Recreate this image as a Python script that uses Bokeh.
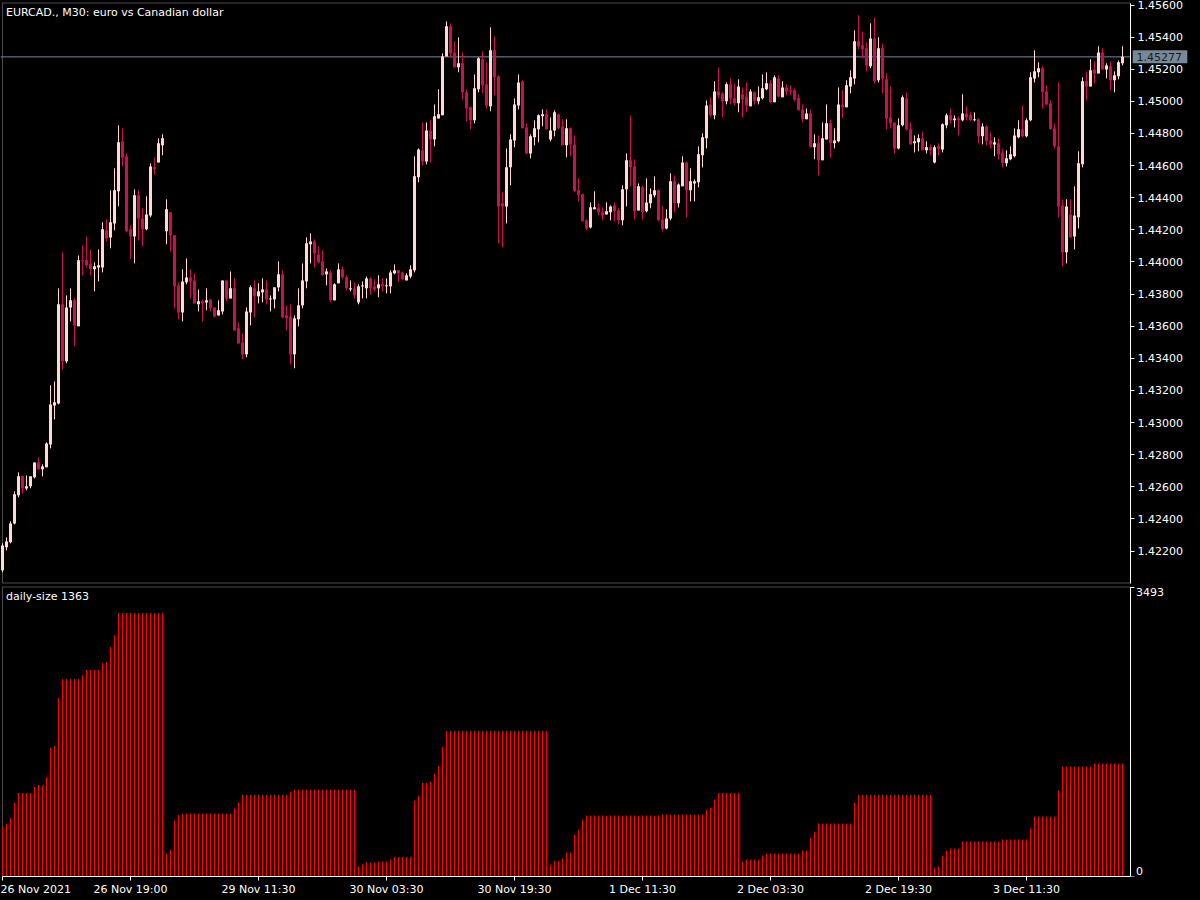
from bokeh.plotting import figure
from bokeh.models import (Range1d, FixedTicker, Label, NumeralTickFormatter,
                          ColumnDataSource, BoxAnnotation)
from bokeh.layouts import column
from bokeh.embed import file_html
from bokeh.resources import INLINE

# ---------------- data (EURCAD M30, 26 Nov 03:00 .. 3 Dec 23:30) ----------------
opens = [
1.42080,1.42223,1.42254,1.42372,1.42547,1.42665,1.42590,1.42603,1.42659,1.42752,
1.42709,1.42721,1.42864,1.43107,1.43119,1.43736,1.43381,1.43717,1.43761,1.43599,
1.44010,1.44010,1.43991,1.43954,1.43966,1.43966,1.44197,1.44153,1.44240,1.44440,
1.44751,1.44658,1.44203,1.44159,1.44415,1.44271,1.44203,1.44290,1.44589,1.44620,
1.44726,1.44191,1.44309,1.44166,1.43854,1.43686,1.43873,1.43904,1.43885,1.43736,
1.43755,1.43748,1.43767,1.43717,1.43667,1.43692,1.43885,1.43773,1.43836,1.43587,
1.43499,1.43425,1.43686,1.43836,1.43786,1.43811,1.43829,1.43767,1.43767,1.43842,
1.43923,1.43667,1.43661,1.43425,1.43643,1.43730,1.43879,1.44110,1.44128,1.44047,
1.44004,1.43923,1.43935,1.43761,1.43867,1.43954,1.43904,1.43829,1.43836,1.43748,
1.43848,1.43836,1.43898,1.43848,1.43836,1.43861,1.43848,1.43848,1.43929,1.43948,
1.43935,1.43885,1.43910,1.43948,1.44527,1.44695,1.44626,1.44819,1.44763,1.44894,
1.44913,1.45280,1.45467,1.45305,1.45212,1.45237,1.45056,1.44963,1.44882,1.45075,
1.45262,1.45106,1.44969,1.45318,1.45156,1.44365,1.44346,1.44589,1.44757,1.44975,
1.45125,1.44838,1.44676,1.44776,1.44826,1.44907,1.44919,1.44763,1.44819,1.44919,
1.44844,1.44726,1.44832,1.44732,1.44446,1.44421,1.44259,1.44215,1.44328,1.44334,
1.44309,1.44296,1.44309,1.44352,1.44321,1.44259,1.44452,1.44633,1.44595,1.44321,
1.44465,1.44315,1.44365,1.44415,1.44446,1.44265,1.44209,1.44271,1.44502,1.44365,
1.44471,1.44620,1.44446,1.44489,1.44496,1.44664,1.44770,1.44981,1.44913,1.45062,
1.45050,1.45000,1.45106,1.45019,1.44988,1.45044,1.45031,1.44969,1.45056,1.45000,
1.45019,1.45075,1.45112,1.44994,1.45143,1.45025,1.45087,1.45069,1.45069,1.45019,
1.44950,1.44888,1.44925,1.44714,1.44739,1.44633,1.44763,1.44863,1.44739,1.44751,
1.44981,1.44963,1.45093,1.45143,1.45374,1.45349,1.45330,1.45218,1.45392,1.45131,
1.45330,1.45137,1.44900,1.44869,1.44707,1.44851,1.45019,1.44826,1.44739,1.44745,
1.44770,1.44695,1.44714,1.44620,1.44720,1.44701,1.44851,1.44913,1.44882,1.44894,
1.44882,1.44925,1.44913,1.44882,1.44888,1.44782,1.44844,1.44757,1.44732,1.44739,
1.44682,1.44614,1.44639,1.44658,1.44776,1.44826,1.44782,1.44882,1.45143,1.45181,
1.45206,1.45062,1.44988,1.44832,1.44720,1.44352,1.44060,1.44296,1.44159,1.44278,
1.44608,1.45125,1.45093,1.45199,1.45174,1.45305,1.45199,1.45218,1.45131,1.45156,
1.45237]
highs = [
1.42248,1.42285,1.42385,1.42572,1.42690,1.42671,1.42671,1.42665,1.42752,1.42783,
1.42740,1.42877,1.43232,1.43256,1.43836,1.44060,1.43792,1.43836,1.43773,1.44041,
1.44103,1.44159,1.44078,1.43998,1.44078,1.44247,1.44265,1.44446,1.44583,1.44851,
1.44832,1.44676,1.44228,1.44452,1.44446,1.44334,1.44409,1.44614,1.44651,1.44770,
1.44795,1.44390,1.44309,1.44166,1.43873,1.43954,1.44022,1.43954,1.43929,1.43829,
1.43767,1.43836,1.43767,1.43717,1.43761,1.43885,1.43885,1.43941,1.43898,1.43624,
1.43555,1.43717,1.43854,1.43885,1.43867,1.43898,1.43885,1.43792,1.43842,1.44004,
1.43948,1.43730,1.43736,1.43667,1.43836,1.43991,1.44153,1.44178,1.44141,1.44097,
1.44072,1.43960,1.43948,1.43867,1.43991,1.43973,1.43917,1.43885,1.43873,1.43861,
1.43879,1.43910,1.43904,1.43892,1.43917,1.43898,1.43898,1.43948,1.43985,1.43948,
1.43941,1.43929,1.43979,1.44658,1.44707,1.44869,1.44869,1.44882,1.44981,1.45075,
1.45299,1.45498,1.45486,1.45374,1.45399,1.45305,1.45075,1.44969,1.45168,1.45274,
1.45311,1.45243,1.45461,1.45405,1.45162,1.44433,1.44707,1.44795,1.45019,1.45168,
1.45131,1.44863,1.44795,1.44882,1.44919,1.44950,1.44950,1.44900,1.44944,1.44925,
1.44888,1.44888,1.44838,1.44788,1.44521,1.44427,1.44265,1.44371,1.44440,1.44365,
1.44340,1.44371,1.44352,1.44371,1.44334,1.44477,1.44676,1.44913,1.44639,1.44489,
1.44477,1.44521,1.44458,1.44533,1.44452,1.44346,1.44328,1.44552,1.44539,1.44489,
1.44658,1.44626,1.44583,1.44514,1.44720,1.44801,1.45006,1.45025,1.45125,1.45212,
1.45056,1.45118,1.45143,1.45112,1.45137,1.45087,1.45118,1.45075,1.45062,1.45093,
1.45168,1.45181,1.45131,1.45162,1.45162,1.45125,1.45106,1.45100,1.45081,1.45044,
1.44981,1.44956,1.44950,1.44795,1.44788,1.44869,1.44981,1.44888,1.44832,1.45087,
1.45069,1.45131,1.45193,1.45442,1.45536,1.45436,1.45367,1.45486,1.45523,1.45399,
1.45361,1.45174,1.45093,1.44869,1.44894,1.45037,1.45056,1.44869,1.44788,1.44795,
1.44813,1.44751,1.44732,1.44726,1.44739,1.44863,1.44925,1.44956,1.44913,1.44907,
1.45044,1.44969,1.44932,1.44932,1.44894,1.44863,1.44851,1.44807,1.44776,1.44770,
1.44707,1.44695,1.44720,1.44832,1.44882,1.44975,1.44894,1.45181,1.45318,1.45243,
1.45218,1.45100,1.45006,1.44863,1.45118,1.44390,1.44390,1.44390,1.44471,1.44689,
1.45150,1.45187,1.45262,1.45249,1.45343,1.45330,1.45237,1.45249,1.45187,1.45255,
1.45343]
lows = [
1.42067,1.42204,1.42248,1.42366,1.42534,1.42559,1.42578,1.42590,1.42652,1.42702,
1.42665,1.42721,1.42839,1.43020,1.43113,1.43331,1.43369,1.43630,1.43474,1.43599,
1.43917,1.43966,1.43917,1.43817,1.43879,1.43935,1.44128,1.44085,1.44197,1.44346,
1.44595,1.44184,1.44016,1.43991,1.44135,1.44097,1.44197,1.44278,1.44545,1.44620,
1.44664,1.44110,1.44066,1.43711,1.43643,1.43630,1.43861,1.43773,1.43742,1.43692,
1.43630,1.43699,1.43692,1.43655,1.43667,1.43674,1.43755,1.43773,1.43574,1.43493,
1.43394,1.43406,1.43605,1.43655,1.43742,1.43748,1.43736,1.43692,1.43711,1.43817,
1.43649,1.43574,1.43362,1.43338,1.43599,1.43711,1.43836,1.43991,1.43966,1.43991,
1.43917,1.43854,1.43748,1.43761,1.43867,1.43892,1.43823,1.43817,1.43773,1.43736,
1.43773,1.43773,1.43798,1.43817,1.43780,1.43817,1.43804,1.43804,1.43923,1.43879,
1.43885,1.43885,1.43898,1.43935,1.44496,1.44601,1.44608,1.44620,1.44720,1.44894,
1.44913,1.45280,1.45274,1.45212,1.45181,1.45012,1.44876,1.44826,1.44863,1.45056,
1.45050,1.44956,1.44938,1.45037,1.44116,1.44091,1.44240,1.44477,1.44714,1.44950,
1.44832,1.44670,1.44645,1.44726,1.44745,1.44844,1.44826,1.44751,1.44782,1.44826,
1.44726,1.44651,1.44658,1.44433,1.44377,1.44253,1.44197,1.44209,1.44328,1.44290,
1.44259,1.44296,1.44259,1.44253,1.44234,1.44228,1.44346,1.44471,1.44265,1.44321,
1.44265,1.44309,1.44334,1.44402,1.44253,1.44191,1.44203,1.44259,1.44309,1.44340,
1.44471,1.44278,1.44377,1.44377,1.44465,1.44589,1.44707,1.44900,1.44888,1.45019,
1.44900,1.44981,1.44981,1.44975,1.44932,1.44900,1.44932,1.44969,1.44981,1.44981,
1.45012,1.45069,1.44988,1.44994,1.45025,1.45025,1.45037,1.45037,1.45000,1.44944,
1.44869,1.44888,1.44714,1.44639,1.44539,1.44633,1.44763,1.44651,1.44707,1.44745,
1.44894,1.44963,1.45050,1.45106,1.45324,1.45268,1.45187,1.45206,1.45112,1.45118,
1.45050,1.44826,1.44832,1.44676,1.44701,1.44844,1.44819,1.44732,1.44682,1.44689,
1.44695,1.44676,1.44664,1.44614,1.44664,1.44682,1.44832,1.44863,1.44838,1.44788,
1.44876,1.44882,1.44876,1.44876,1.44739,1.44732,1.44726,1.44707,1.44658,1.44639,
1.44589,1.44595,1.44633,1.44651,1.44770,1.44776,1.44776,1.44876,1.45118,1.45150,
1.44956,1.44975,1.44826,1.44707,1.44278,1.43973,1.43991,1.44153,1.44078,1.44209,
1.44589,1.45006,1.45093,1.45112,1.45174,1.45199,1.45143,1.45069,1.45056,1.45137,
1.45224]
closes = [
1.42235,1.42260,1.42372,1.42553,1.42665,1.42590,1.42603,1.42665,1.42752,1.42709,
1.42727,1.42870,1.43113,1.43126,1.43736,1.43381,1.43717,1.43761,1.43605,1.44010,
1.44004,1.43979,1.43954,1.43973,1.43979,1.44203,1.44147,1.44247,1.44446,1.44745,
1.44651,1.44191,1.44159,1.44415,1.44271,1.44203,1.44296,1.44595,1.44577,1.44739,
1.44770,1.44328,1.44166,1.43848,1.43686,1.43879,1.43904,1.43879,1.43742,1.43755,
1.43742,1.43761,1.43711,1.43661,1.43699,1.43885,1.43773,1.43836,1.43574,1.43493,
1.43425,1.43692,1.43842,1.43786,1.43817,1.43829,1.43767,1.43773,1.43842,1.43923,
1.43655,1.43649,1.43425,1.43649,1.43730,1.43885,1.44116,1.44128,1.44054,1.43998,
1.43917,1.43941,1.43761,1.43861,1.43954,1.43904,1.43836,1.43836,1.43792,1.43848,
1.43854,1.43898,1.43836,1.43829,1.43861,1.43848,1.43854,1.43935,1.43948,1.43929,
1.43892,1.43917,1.43954,1.44533,1.44701,1.44626,1.44819,1.44763,1.44907,1.44919,
1.45280,1.45467,1.45299,1.45212,1.45237,1.45056,1.44956,1.44882,1.45081,1.45268,
1.45100,1.44975,1.45318,1.45150,1.44346,1.44346,1.44589,1.44763,1.44981,1.45118,
1.44832,1.44676,1.44782,1.44832,1.44913,1.44919,1.44826,1.44819,1.44932,1.44832,
1.44726,1.44832,1.44732,1.44440,1.44415,1.44253,1.44209,1.44340,1.44340,1.44309,
1.44290,1.44315,1.44346,1.44315,1.44259,1.44452,1.44633,1.44589,1.44315,1.44471,
1.44309,1.44371,1.44421,1.44446,1.44259,1.44203,1.44271,1.44502,1.44365,1.44483,
1.44620,1.44446,1.44502,1.44502,1.44670,1.44776,1.44975,1.44913,1.45062,1.45037,
1.45000,1.45106,1.45019,1.44988,1.45093,1.45012,1.44975,1.45062,1.45000,1.45025,
1.45081,1.45112,1.44994,1.45150,1.45031,1.45087,1.45062,1.45062,1.45012,1.44944,
1.44888,1.44925,1.44714,1.44739,1.44633,1.44770,1.44863,1.44739,1.44757,1.44981,
1.44963,1.45100,1.45150,1.45374,1.45343,1.45324,1.45224,1.45392,1.45125,1.45330,
1.45143,1.44894,1.44863,1.44707,1.44851,1.45025,1.44826,1.44732,1.44751,1.44770,
1.44695,1.44714,1.44695,1.44714,1.44707,1.44857,1.44913,1.44882,1.44894,1.44882,
1.44925,1.44900,1.44882,1.44888,1.44782,1.44844,1.44751,1.44732,1.44745,1.44670,
1.44614,1.44645,1.44670,1.44788,1.44826,1.44782,1.44882,1.45150,1.45187,1.45206,
1.45056,1.44981,1.44826,1.44720,1.44346,1.44060,1.44346,1.44153,1.44290,1.44614,
1.45125,1.45093,1.45193,1.45174,1.45305,1.45199,1.45224,1.45131,1.45162,1.45243,
1.45277]
daily_size = [
600,638,711,891,1008,1008,1008,1008,1080,1104,
1104,1201,1554,1574,2156,2381,2381,2381,2381,2381,
2429,2493,2493,2493,2493,2574,2590,2767,2911,3180,
3180,3180,3180,3180,3180,3180,3180,3180,3180,3180,
3180,277,325,675,743,759,759,759,759,759,
759,759,759,759,759,759,759,759,819,891,
984,984,984,984,984,984,984,984,984,984,
984,984,1020,1048,1048,1048,1048,1048,1048,1048,
1048,1048,1048,1048,1048,1048,1048,1048,1048,120,
145,169,169,169,181,181,181,205,237,237,
237,237,237,915,976,1128,1128,1144,1237,1337,
1562,1755,1755,1755,1755,1755,1755,1755,1755,1755,
1755,1755,1755,1755,1755,1755,1755,1755,1755,1755,
1755,1755,1755,1755,1755,1755,1755,141,189,189,
213,289,289,506,566,687,735,735,735,735,
735,735,735,735,735,735,735,735,735,735,
735,735,735,735,735,747,747,747,747,747,
747,747,747,747,747,747,807,831,927,1008,
1008,1008,1008,1008,1008,181,205,205,205,205,
253,277,277,277,277,277,277,277,277,277,
313,313,470,542,638,638,638,638,638,638,
638,638,638,891,984,984,984,984,984,984,
984,984,984,984,984,984,984,984,984,984,
984,984,984,108,120,253,313,337,337,337,
422,422,422,422,422,422,422,422,422,422,
446,446,446,446,446,446,446,578,723,723,
723,723,723,723,1036,1327,1327,1327,1327,1327,
1327,1327,1327,1363,1363,1363,1363,1363,1363,1363,
1363]
time_ticks = [0, 32, 64, 96, 128, 160, 192, 224, 256]
time_labels = ["26 Nov 2021", "26 Nov 19:00", "29 Nov 11:30", "30 Nov 03:30",
               "30 Nov 19:30", "1 Dec 11:30", "2 Dec 03:30", "2 Dec 19:30", "3 Dec 11:30"]
price_ticks = [1.422, 1.424, 1.426, 1.428, 1.430, 1.432, 1.434, 1.436, 1.438,
               1.440, 1.442, 1.444, 1.446, 1.448, 1.450, 1.452, 1.454, 1.456]
last_price = 1.45277
size_ticks = [0, 3493]
current_size = 1363
title_text = "EURCAD., M30:  euro vs Canadian dollar"

# ---------------- layout / styling constants ----------------
FONT = "DejaVu Sans"
BULL = "#ffd8d8"
BEAR = "#c8124f"
W, H_TOP, H_BOT = 1200, 584, 316
PXB = 4.0                      # pixels per bar
X0 = -0.5                      # bar 0 sits on the left border
X1 = X0 + W / PXB
XA = 282.0                     # where the price axis stands (in bar units)
PPP = 16060.0                  # pixels per price unit
YT = 1.456 + 4.5 / PPP         # price at top of main canvas
YB = YT - H_TOP / PPP
FRAME_BOT = 292                # sub-window frame height (px)
SYT = 3493 * FRAME_BOT / 289.5 # value at top of sub-window canvas

n = len(opens)
xs = list(range(n))
min_body = 1.0 / PPP
tops, bots, cols = [], [], []
for o, c in zip(opens, closes):
    t, b = max(o, c), min(o, c)
    if t - b < min_body:
        m = (t + b) / 2
        t, b = m + min_body / 2, m - min_body / 2
    tops.append(t)
    bots.append(b)
    cols.append(BULL if c >= o else BEAR)
src = ColumnDataSource(dict(x=xs, h=highs, l=lows, t=tops, b=bots, c=cols))

def style(p):
    p.background_fill_color = "black"
    p.border_fill_color = "black"
    p.outline_line_color = None
    p.xgrid.visible = False
    p.ygrid.visible = False
    p.min_border_left = 0
    p.min_border_right = 0
    p.min_border_top = 0

def style_axis(a):
    a.axis_line_color = "white"
    a.major_tick_line_color = "white"
    a.minor_tick_line_color = None
    a.major_tick_out = 4
    a.major_tick_in = 0
    a.major_label_text_color = "white"
    a.major_label_text_font = FONT
    a.major_label_text_font_size = "11px"
    a.major_label_standoff = 3

xr = Range1d(X0, X1)

# ---------------- main price chart ----------------
p = figure(width=W, height=H_TOP, x_range=xr, y_range=Range1d(YB, YT),
           output_backend="svg", toolbar_location=None, x_axis_location=None,
           y_axis_location="right")
style(p)
p.min_border_bottom = 0
top_b = YT - 2.5 / PPP
bot_b = YT - 582.5 / PPP
p.add_layout(BoxAnnotation(left=0, right=XA, top=top_b, bottom=bot_b, fill_color=None,
                           line_color="white", line_width=1, level="underlay"))
p.segment(x0=[X0], y0=[last_price], x1=[XA], y1=[last_price], line_color="#778899", line_width=1)
p.segment(x0="x", y0="l", x1="x", y1="h", color="c", line_width=1, source=src)
p.vbar(x="x", top="t", bottom="b", width=0.75, fill_color="c", line_color=None, source=src)

ax = p.yaxis[0]
ax.fixed_location = XA
ax.bounds = (bot_b, top_b)
ax.ticker = FixedTicker(ticks=price_ticks)
ax.formatter = NumeralTickFormatter(format="0.00000")
style_axis(ax)

# current price box
p.quad(left=[XA + 0.55], right=[XA + 14.2], bottom=[last_price - 6.5 / PPP],
       top=[last_price + 6.5 / PPP], fill_color="#778899", line_color=None)
p.add_layout(Label(x=XA, y=last_price, x_offset=6, y_offset=0, text="%.5f" % last_price,
                   text_baseline="middle", text_color="#1a1a1a", text_font=FONT,
                   text_font_size="11px"))
p.add_layout(Label(x=0, y=top_b, x_offset=3.5, y_offset=-2.5, text=title_text,
                   text_baseline="top", text_color="white", text_font=FONT,
                   text_font_size="11px"))

# ---------------- daily-size histogram ----------------
q = figure(width=W, height=H_BOT, x_range=xr, y_range=Range1d(0, SYT),
           output_backend="svg", toolbar_location=None, y_axis_location="right")
style(q)
q.min_border_bottom = H_BOT - FRAME_BOT
s_top = SYT - 2.5 * SYT / FRAME_BOT
q.add_layout(BoxAnnotation(left=0, right=XA, top=s_top, bottom=0, fill_color=None,
                           line_color="white", line_width=1, level="underlay"))
hsrc = ColumnDataSource(dict(x=xs, v=daily_size, z=[0] * n))
q.segment(x0="x", y0="z", x1="x", y1="v", color="#ff0000", line_width=1, source=hsrc)

qa = q.yaxis[0]
qa.fixed_location = XA
qa.bounds = (0, s_top)
qa.ticker = FixedTicker(ticks=size_ticks)
style_axis(qa)
qa.major_label_text_color = None

xa = q.xaxis[0]
xa.bounds = (0, XA)
xa.ticker = FixedTicker(ticks=time_ticks)
xa.major_label_overrides = {t: s for t, s in zip(time_ticks, time_labels)}
style_axis(xa)
xa.major_label_text_align = "left"
xa.major_label_standoff = 2

q.add_layout(Label(x=0, y=s_top, x_offset=3.5, y_offset=-3, text="daily-size %d" % current_size,
                   text_baseline="top", text_color="white", text_font=FONT,
                   text_font_size="11px"))
q.add_layout(Label(x=XA, y=size_ticks[1], x_offset=5.5, y_offset=-1, text=str(size_ticks[1]),
                   text_baseline="top", text_color="white", text_font=FONT,
                   text_font_size="11px"))
q.add_layout(Label(x=XA, y=size_ticks[0], x_offset=5.5, y_offset=2, text=str(size_ticks[0]),
                   text_baseline="bottom", text_color="white", text_font=FONT,
                   text_font_size="11px"))

layout = column(p, q, spacing=0)
layout.styles = {"background-color": "black"}
open("out.html", "w").write(file_html(layout, INLINE))
